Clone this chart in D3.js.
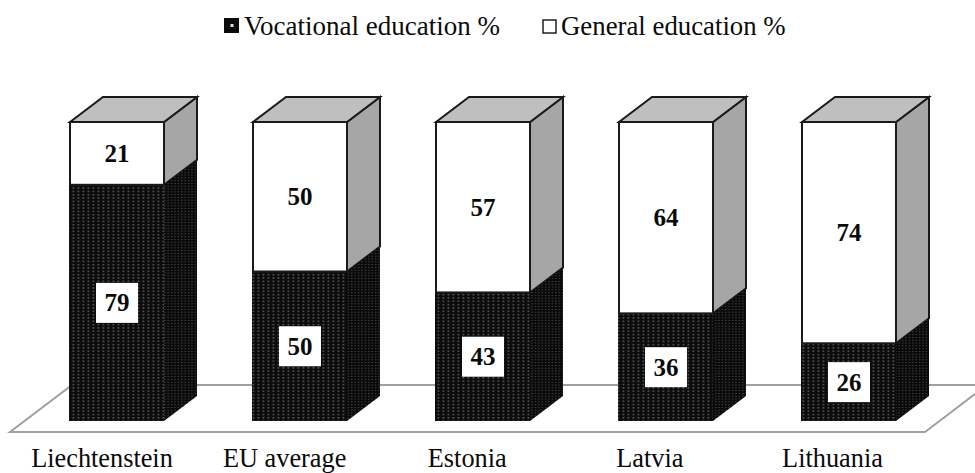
<!DOCTYPE html>
<html><head><meta charset="utf-8">
<script src="https://cdn.jsdelivr.net/npm/d3@7"></script>
<style>html,body{margin:0;padding:0;background:#fff}svg{display:block}text{font-family:"Liberation Serif",serif;fill:#0a0a0a}</style>
</head><body><div id="c"></div>
<script>
const categories = ["Liechtenstein","EU average","Estonia","Latvia","Lithuania"];
const vocational = [79,50,43,36,26];
const general = [21,50,57,64,74];
const seriesNames = ["Vocational education %","General education %"];

const W=975,H=473;
const svg=d3.select("#c").append("svg").attr("width",W).attr("height",H);
const defs=svg.append("defs");
const pf=defs.append("pattern").attr("id","pf").attr("patternUnits","userSpaceOnUse").attr("width",5).attr("height",3.33).attr("x",71).attr("y",0);
pf.append("rect").attr("width",5).attr("height",3.33).attr("fill","#0c0c0c");
pf.append("rect").attr("x",1.5).attr("y",1).attr("width",1.8).attr("height",1.2).attr("fill","#666");
const ps=defs.append("pattern").attr("id","ps").attr("patternUnits","userSpaceOnUse").attr("width",3.4).attr("height",2.8);
ps.append("rect").attr("width",3.4).attr("height",2.8).attr("fill","#0a0a0a");
ps.append("rect").attr("x",1).attr("y",1).attr("width",1.2).attr("height",.9).attr("fill","#555");
const pl=defs.append("pattern").attr("id","pl").attr("patternUnits","userSpaceOnUse").attr("width",16).attr("height",15).attr("x",224).attr("y",18);
pl.append("rect").attr("width",16).attr("height",15).attr("fill","#0b0b0b");
pl.append("rect").attr("x",6.5).attr("y",6).attr("width",3).attr("height",3).attr("fill","#ddd");

const x=d3.scalePoint().domain(categories).range([117,849]);
const labelX=d3.scalePoint().domain(categories).range([102,832.5]);
const barW=94;
const y=d3.scaleLinear().domain([0,100]).range([421,122]);
const dx=33,dy=25;

// floor
const floorBack=385,floorFront=432;
svg.append("polygon").attr("points",[[10,floorFront],[925,floorFront],[925+62,floorBack],[72,floorBack]].join(" "))
  .attr("fill","#fff").attr("stroke","#a0a0a0").attr("stroke-width",2);

const bars=svg.selectAll("g.bar").data(categories).join("g").attr("class","bar");
bars.each(function(c,i){
  const g=d3.select(this),l=x(c)-barW/2,r=x(c)+barW/2,y0=y(0),ym=y(vocational[i]),yt=y(100);
  const side=(a,b,f)=>g.append("polygon").attr("points",[[r,a],[r+dx,a-dy],[r+dx,b-dy],[r,b]].join(" ")).attr("fill",f);
  side(ym,yt,"#a6a6a6").attr("stroke","#1a1a1a").attr("stroke-width",2);
  side(y0,ym,"url(#ps)");
  g.append("polygon").attr("points",[[l,yt],[l+dx,yt-dy],[r+dx,yt-dy],[r,yt]].join(" "))
    .attr("fill","#bfbfbf").attr("stroke","#1a1a1a").attr("stroke-width",2);
  g.append("rect").attr("x",l-1).attr("y",ym).attr("width",barW+1).attr("height",y0-ym).attr("fill","url(#pf)");
  g.append("rect").attr("x",l).attr("y",yt).attr("width",barW).attr("height",ym-yt).attr("fill","#fff").attr("stroke","#1a1a1a").attr("stroke-width",2);
  const my=(y0+ym)/2;
  g.append("rect").attr("x",x(c)-21).attr("y",my-20).attr("width",42).attr("height",40).attr("fill","#fff");
  g.append("text").attr("x",x(c)).attr("y",my+8.5).attr("text-anchor","middle").attr("font-size",25).attr("font-weight","bold").text(vocational[i]);
  g.append("text").attr("x",x(c)).attr("y",(ym+yt)/2+8.5).attr("text-anchor","middle").attr("font-size",25).attr("font-weight","bold").text(general[i]);
  g.append("text").attr("x",labelX(c)).attr("y",467).attr("text-anchor","middle").attr("font-size",26.3).text(c);
});

// legend
const lg=svg.append("g");
lg.append("rect").attr("x",224).attr("y",18).attr("width",15).attr("height",15).attr("fill","url(#pl)");
lg.append("text").attr("x",244).attr("y",35).attr("font-size",27).text(seriesNames[0]);
lg.append("rect").attr("x",543).attr("y",20).attr("width",13).attr("height",13).attr("fill","#fff").attr("stroke","#222").attr("stroke-width",1.5);
lg.append("text").attr("x",561).attr("y",35).attr("font-size",26.8).text(seriesNames[1]);
</script></body></html>
